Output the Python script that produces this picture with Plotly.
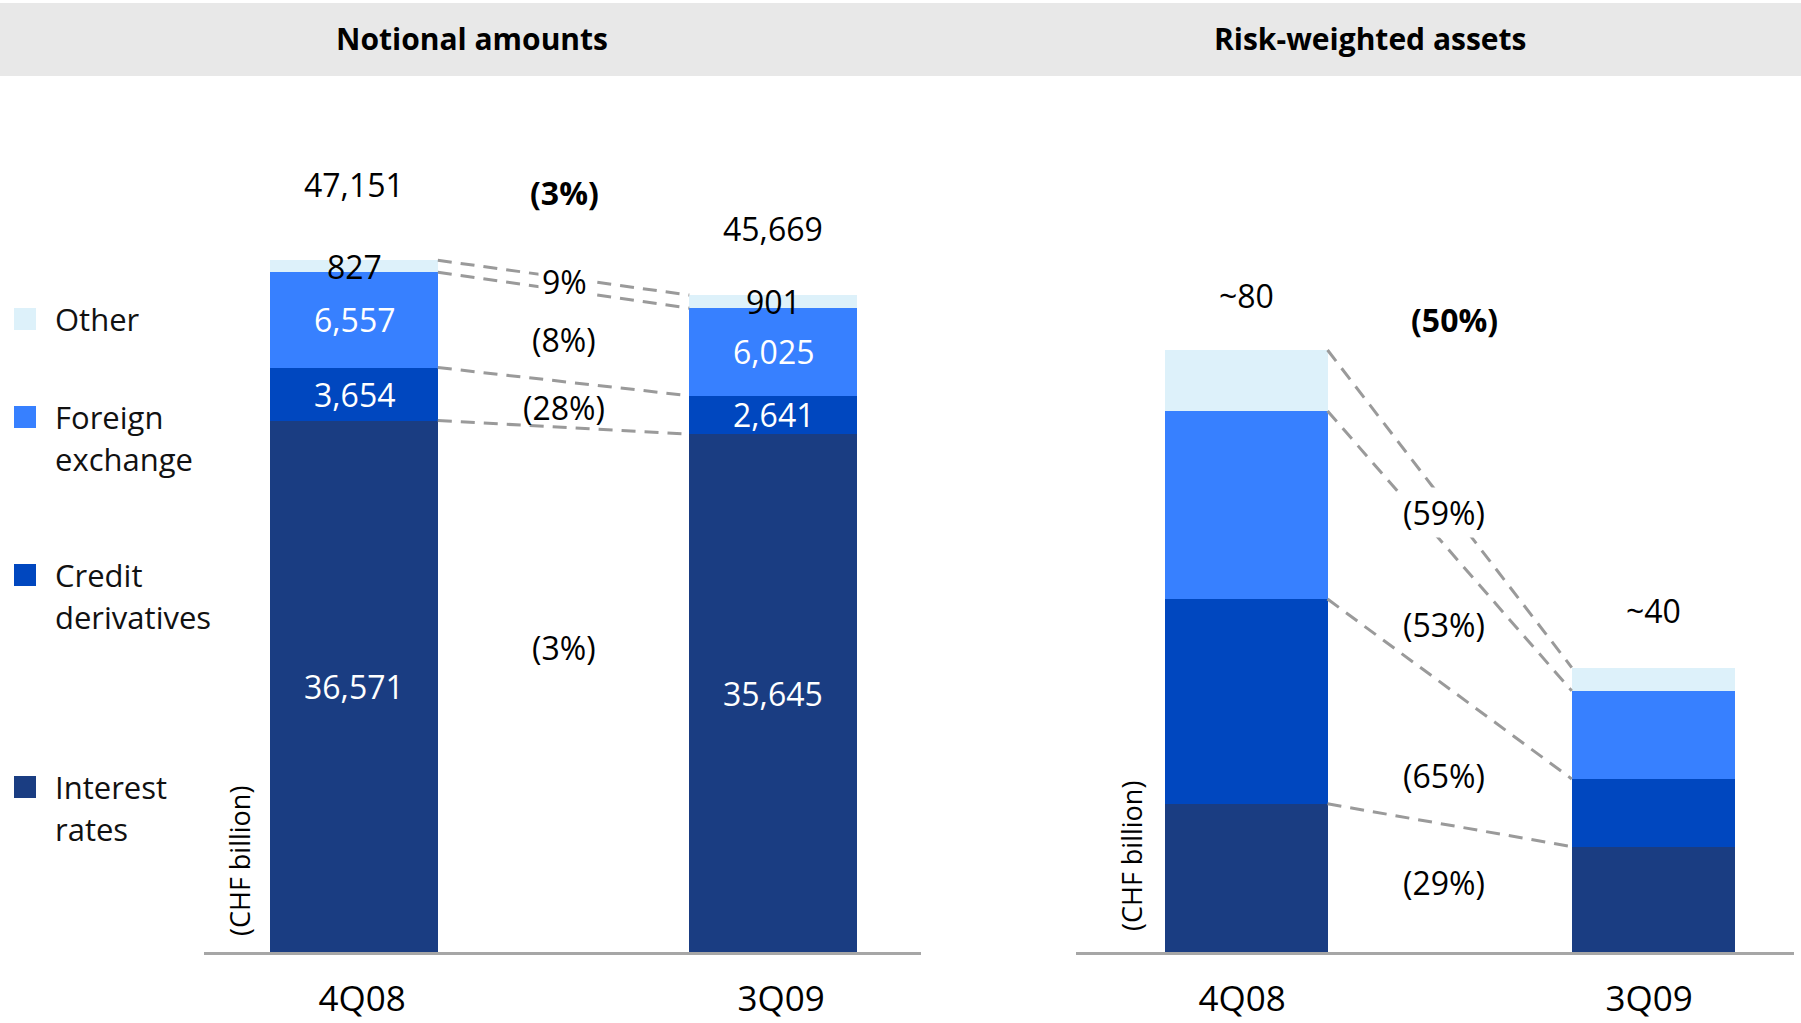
import plotly.graph_objects as go

W, H = 1801, 1023

categories = ["4Q08", "3Q09"]

# Notional amounts (CHF billion)
notional_interest = [36571, 35645]
notional_credit = [3654, 2641]
notional_fx = [6557, 6025]
notional_other = [827, 901]
notional_total = [47151, 45669]
notional_total_labels = ["47,151", "45,669"]
notional_seg_labels_ir = ["36,571", "35,645"]
notional_seg_labels_credit = ["3,654", "2,641"]
notional_seg_labels_fx = ["6,557", "6,025"]
notional_seg_labels_other = ["827", "901"]
notional_changes = ["(3%)", "9%", "(8%)", "(28%)", "(3%)"]  # total, other, fx, credit, ir

# Risk-weighted assets (CHF billion, approximate)
rwa_interest = [19.7, 14.0]
rwa_credit = [27.2, 9.0]
rwa_fx = [25.0, 11.7]
rwa_other = [8.1, 3.1]
rwa_total_labels = ["~80", "~40"]
rwa_changes = ["(50%)", "(59%)", "(53%)", "(65%)", "(29%)"]  # total, other, fx, credit, ir

series_names = ["Interest rates", "Credit derivatives", "Foreign exchange", "Other"]
colors = ["#1a3d82", "#0047bf", "#3780ff", "#ddf1fa"]

FONT = "Open Sans"
BAR_W = 0.4
DASH_COLOR = "#9a9a9a"
DASH = "14px,9px"


def px(x):
    return x / W


def py(y):
    return 1 - y / H


fig = go.Figure()

xpos = [0, 1]

left_series = [notional_interest, notional_credit, notional_fx, notional_other]
right_series = [rwa_interest, rwa_credit, rwa_fx, rwa_other]

for name, col, vals in zip(series_names, colors, left_series):
    fig.add_trace(go.Bar(x=xpos, y=vals, name=name, marker=dict(color=col, line=dict(width=0)),
                         width=BAR_W, xaxis="x", yaxis="y", showlegend=False, hoverinfo="skip"))
for name, col, vals in zip(series_names, colors, right_series):
    fig.add_trace(go.Bar(x=xpos, y=vals, name=name, marker=dict(color=col, line=dict(width=0)),
                         width=BAR_W, xaxis="x2", yaxis="y2", showlegend=False, hoverinfo="skip"))


def cumulative(series):
    tops = []
    run = [0, 0]
    for s in series:
        run = [run[i] + s[i] for i in range(2)]
        tops.append(list(run))
    return tops  # tops of IR, credit, fx, other


def add_connectors(series, xa, ya):
    tops = cumulative(series)
    for t in tops:
        fig.add_trace(go.Scatter(x=[xpos[0] + BAR_W / 2, xpos[1] - BAR_W / 2], y=[t[0], t[1]],
                                 mode="lines", line=dict(color=DASH_COLOR, width=3, dash=DASH),
                                 xaxis=xa, yaxis=ya, showlegend=False, hoverinfo="skip"))


add_connectors(left_series, "x", "y")
add_connectors(right_series, "x2", "y2")

annotations = []


def note(x, y, text, size=32, color="black", **kw):
    d = dict(x=x, y=y, xref="paper", yref="paper", text=text, showarrow=False,
             xanchor="center", yanchor="middle", font=dict(family=FONT, size=size, color=color))
    d.update(kw)
    annotations.append(d)


# segment labels for notional
seg_label_sets = [notional_seg_labels_ir, notional_seg_labels_credit, notional_seg_labels_fx, notional_seg_labels_other]
seg_colors = ["white", "white", "white", "black"]
tops = cumulative(left_series)
for k, labels in enumerate(seg_label_sets):
    for i in range(2):
        bottom = tops[k - 1][i] if k > 0 else 0
        mid = (bottom + tops[k][i]) / 2
        annotations.append(dict(x=xpos[i], y=mid, xref="x", yref="y", text=labels[i], showarrow=False,
                                xanchor="center", yanchor="middle",
                                font=dict(family=FONT, size=32, color=seg_colors[k])))

total_shift = [82, 60]
for i in range(2):
    annotations.append(dict(x=xpos[i], y=notional_total[i], xref="x", yref="y", text=notional_total_labels[i],
                            showarrow=False, yshift=total_shift[i], xanchor="center", yanchor="middle",
                            font=dict(family=FONT, size=32, color="black")))

rtops = cumulative(right_series)
rtotal_shift = [55, 57]
for i in range(2):
    annotations.append(dict(x=xpos[i], y=rtops[-1][i], xref="x2", yref="y2", text=rwa_total_labels[i],
                            showarrow=False, yshift=rtotal_shift[i], xanchor="center", yanchor="middle",
                            font=dict(family=FONT, size=32, color="black")))

# change labels (left)
left_change_y = [192, 281, 340, 407, 647]
for k, (txt, yy) in enumerate(zip(notional_changes, left_change_y)):
    note(px(564), py(yy), f"<b>{txt}</b>" if k == 0 else txt,
         bgcolor="white" if k == 1 else "rgba(0,0,0,0)", borderpad=3)

right_change_pos = [(1454, 320), (1444, 512), (1444, 624), (1444, 775), (1444, 882)]
for k, (txt, (xx, yy)) in enumerate(zip(rwa_changes, right_change_pos)):
    note(px(xx), py(yy), f"<b>{txt}</b>" if k == 0 else txt,
         bgcolor="white" if k == 1 else "rgba(0,0,0,0)", borderpad=3)

# titles
note(px(472), py(39), "<b>Notional amounts</b>", size=30)
note(px(1370), py(39), "<b>Risk-weighted assets</b>", size=30)

# unit labels
for xx, yy in [(239, 861), (1131, 856)]:
    note(px(xx), py(yy), "(CHF billion)", size=27, textangle=-90)

# legend
legend_items = [
    ("Other", colors[3], 319, ["Other"]),
    ("Foreign exchange", colors[2], 417, ["Foreign", "exchange"]),
    ("Credit derivatives", colors[1], 575, ["Credit", "derivatives"]),
    ("Interest rates", colors[0], 787, ["Interest", "rates"]),
]
shapes = [dict(type="rect", xref="paper", yref="paper", x0=0, x1=1, y0=py(76), y1=py(3),
               fillcolor="#e8e8e8", line=dict(width=0), layer="below")]
for name, col, yc, lines in legend_items:
    shapes.append(dict(type="rect", xref="paper", yref="paper", x0=px(14), x1=px(36),
                       y0=py(yc + 11), y1=py(yc - 11), fillcolor=col, line=dict(width=0)))
    for j, ln in enumerate(lines):
        note(px(53), py(yc + j * 42), ln, size=31, color="#111111", xanchor="left")

y_dom = [py(952), py(80)]
axis_common = dict(showgrid=False, zeroline=False, showline=True, linecolor="#a6a6a6", linewidth=3,
                   ticks="", tickmode="array", tickvals=xpos, ticktext=categories,
                   tickfont=dict(family=FONT, size=35, color="black"), ticklabelstandoff=14,
                   automargin=False, fixedrange=True)

fig.update_layout(
    width=W, height=H,
    margin=dict(l=0, r=0, t=0, b=0, autoexpand=False),
    paper_bgcolor="white", plot_bgcolor="white",
    barmode="stack", bargap=0,
    xaxis=dict(domain=[px(204), px(921)], range=[-0.358, 1.353], anchor="y", ticklabelshift=8, **axis_common),
    xaxis2=dict(domain=[px(1076), px(1794)], range=[-0.418, 1.346], anchor="y2", ticklabelshift=-4, **axis_common),
    yaxis=dict(domain=y_dom, range=[0, 872 / 0.01453], visible=False, fixedrange=True, automargin=False),
    yaxis2=dict(domain=y_dom, range=[0, 872 / 7.525], visible=False, fixedrange=True, automargin=False),
    annotations=annotations,
    shapes=shapes,
    showlegend=False,
)

fig.write_html("out.html")
